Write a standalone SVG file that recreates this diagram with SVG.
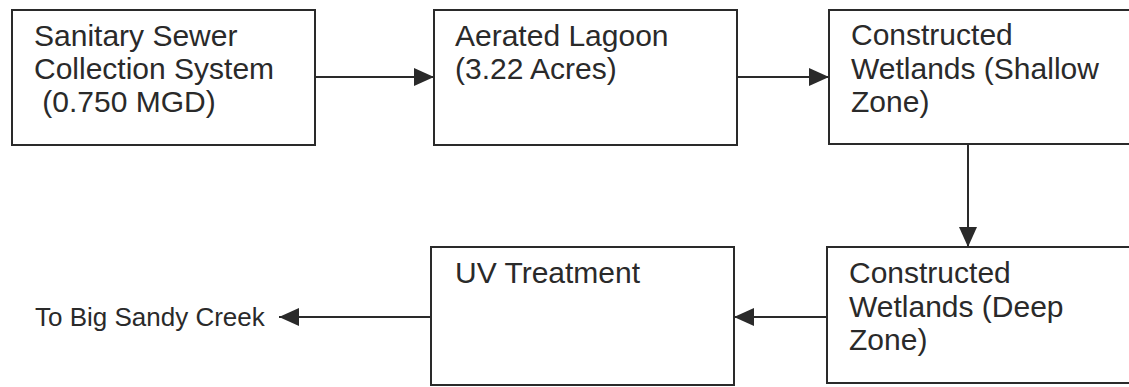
<svg xmlns="http://www.w3.org/2000/svg" width="1129" height="387" viewBox="0 0 1129 387">
<style>
.box{fill:#fff;stroke:#2a2a2a;stroke-width:2}
.t{font-family:"Liberation Sans",Arial,sans-serif;font-size:30px;fill:#2a2a2a}
.s{font-size:26px}
.c{stroke:#2a2a2a;stroke-width:2;fill:none}
</style>
<defs>
<marker id="ah" viewBox="0 0 20 18" refX="20" refY="9" markerWidth="20" markerHeight="18" markerUnits="userSpaceOnUse" orient="auto">
<path d="M0,0 L20,9 L0,18 Z" fill="#2a2a2a"/>
</marker>
</defs>
<rect width="1129" height="387" fill="#fff"/>
<g id="n1">
<rect class="box" x="12" y="10" width="303" height="135"/>
<text class="t" x="34" y="46">Sanitary Sewer</text>
<text class="t" x="34" y="79">Collection System</text>
<text class="t" x="34" y="112" xml:space="preserve"> (0.750 MGD)</text>
</g>
<g id="n2">
<rect class="box" x="434" y="10" width="303" height="135"/>
<text class="t" x="455" y="46">Aerated Lagoon</text>
<text class="t" x="455" y="79">(3.22 Acres)</text>
</g>
<g id="n3">
<rect class="box" x="829" y="10" width="310" height="134"/>
<text class="t" x="851" y="45">Constructed</text>
<text class="t" x="851" y="79">Wetlands (Shallow</text>
<text class="t" x="851" y="112">Zone)</text>
</g>
<g id="n4">
<rect class="box" x="827" y="247" width="312" height="136"/>
<text class="t" x="849" y="283">Constructed</text>
<text class="t" x="849" y="317">Wetlands (Deep</text>
<text class="t" x="849" y="350">Zone)</text>
</g>
<g id="n5">
<rect class="box" x="431" y="247" width="303" height="138"/>
<text class="t" x="455" y="283">UV Treatment</text>
</g>
<g id="out">
<text class="t s" x="35" y="326">To Big Sandy Creek</text>
</g>
<g id="connectors">
<line class="c" x1="315" y1="77" x2="434" y2="77" marker-end="url(#ah)"/>
<line class="c" x1="737" y1="77" x2="829" y2="77" marker-end="url(#ah)"/>
<line class="c" x1="968" y1="144" x2="968" y2="247" marker-end="url(#ah)"/>
<line class="c" x1="827" y1="317" x2="734" y2="317" marker-end="url(#ah)"/>
<line class="c" x1="431" y1="317" x2="279" y2="317" marker-end="url(#ah)"/>
</g>
</svg>
